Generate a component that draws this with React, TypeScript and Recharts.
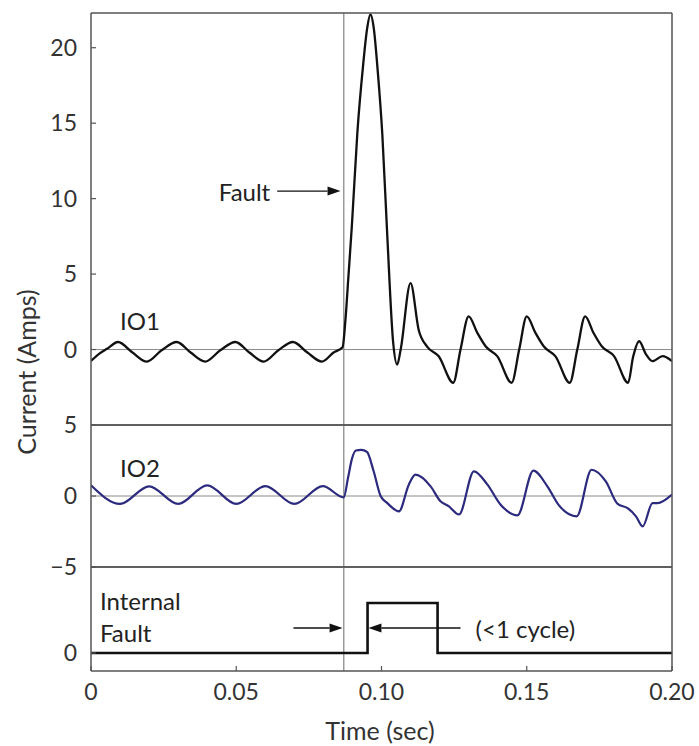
import React from 'react';
import { LineChart, Line, XAxis, YAxis, ReferenceLine, ReferenceDot } from 'recharts';

const FONT = 'Lato, "Open Sans", sans-serif';

// ---- axes ----
const timeTicks = [0, 0.05, 0.1, 0.15, 0.2];
const timeTickLabels = ['0', '0.05', '0.10', '0.15', '0.20'];
const innerTimeTicks = [0.05, 0.1, 0.15];
const io1Ticks = [0, 5, 10, 15, 20];
const io2Ticks = [-5, 0, 5];
const tripTicks = [0];

// ---- series IO1 (Amps) ----
const io1Time = [
  0, 0.003, 0.0055, 0.0093, 0.0143, 0.0192, 0.0243, 0.0295, 0.0343, 0.0393,
  0.0445, 0.0497, 0.0545, 0.0594, 0.0645, 0.0695, 0.0745, 0.0795, 0.0835, 0.0866,
  0.0876, 0.0886, 0.0898, 0.0917, 0.0937, 0.095, 0.0962, 0.0974, 0.0986, 0.1003,
  0.102, 0.104, 0.1054, 0.1066, 0.11, 0.1128, 0.1157, 0.1197, 0.1247, 0.1272,
  0.13, 0.133, 0.1359, 0.1399, 0.1448, 0.1474, 0.15, 0.153, 0.1559, 0.1599,
  0.1648, 0.1674, 0.1701, 0.173, 0.1759, 0.1801, 0.1849, 0.1866, 0.1887, 0.191,
  0.1933, 0.1968, 0.2,
];
const io1Amps = [
  -0.75, -0.25, 0.05, 0.5, -0.2, -0.8, -0.05, 0.5, -0.2, -0.8,
  -0.05, 0.5, -0.2, -0.8, -0.05, 0.5, -0.2, -0.8, -0.2, 0.15,
  2.0, 4.8, 8.2, 14.4, 18.9, 21.2, 22.2, 21.2, 18.7, 14.2,
  7.5, 0.5, -1.0, 0.0, 4.4, 1.3, 0.2, -0.45, -2.2, 0.0,
  2.2, 1.1, 0.2, -0.45, -2.2, 0.0, 2.2, 1.1, 0.2, -0.45,
  -2.2, 0.0, 2.2, 1.1, 0.2, -0.45, -2.2, -0.5, 0.55, -0.3,
  -0.77, -0.44, -0.77,
];

// ---- series IO2 (Amps) ----
const io2Time = [
  0, 0.01, 0.02, 0.03, 0.04, 0.05, 0.06, 0.07, 0.0798, 0.087,
  0.0885, 0.0898, 0.0912, 0.093, 0.095, 0.0973, 0.0997, 0.102, 0.106, 0.1094,
  0.1117, 0.1169, 0.1203, 0.1232, 0.1267, 0.1318, 0.1364, 0.141, 0.1468, 0.1523,
  0.1571, 0.1611, 0.1672, 0.1723, 0.1772, 0.1813, 0.1847, 0.1876, 0.1899, 0.1933,
  0.195, 0.2,
];
const io2Amps = [
  0.75, -0.56, 0.68, -0.56, 0.75, -0.56, 0.7, -0.56, 0.7, -0.1,
  1.3, 2.6, 3.2, 3.25, 3.1, 1.74, 0.0, -0.5, -1.08, 0.8,
  1.5, 0.68, -0.37, -0.73, -1.3, 1.74, 0.82, -0.61, -1.36, 1.78,
  0.68, -0.66, -1.43, 1.85, 1.03, -0.56, -0.85, -1.43, -2.14, -0.5,
  -0.5, 0.1,
];

// ---- internal fault trip signal ----
const tripTime = [0, 0.0952, 0.0952, 0.1193, 0.1193, 0.2];
const tripState = [0, 0, 1, 1, 0, 0];

const faultTime = 0.087;

const io1Data = io1Time.map((t, i) => ({ t, v: io1Amps[i] }));
const io2Data = io2Time.map((t, i) => ({ t, v: io2Amps[i] }));
const tripData = tripTime.map((t, i) => ({ t, v: tripState[i] }));

const FRAME = '#555';
const TICK_STYLE = { fill: '#333', fontSize: 23, fontFamily: FONT };
const minus = (v: number) => (v < 0 ? '\u2212' + Math.abs(v) : String(v));

const ArrowShape = (props: any) => {
  const { x1, y1, x2, y2 } = props;
  const dx = x2 - x1;
  const dy = y2 - y1;
  const len = Math.hypot(dx, dy) || 1;
  const ux = dx / len;
  const uy = dy / len;
  const hl = 13;
  const hw = 4.5;
  const bx = x2 - ux * hl;
  const by = y2 - uy * hl;
  return (
    <g>
      <line x1={x1} y1={y1} x2={bx} y2={by} stroke="#111" strokeWidth={1.4} />
      <polygon
        points={`${x2},${y2} ${bx - uy * hw},${by + ux * hw} ${bx + uy * hw},${by - ux * hw}`}
        fill="#111"
      />
    </g>
  );
};

const textMark = (text: string, anchor: 'start' | 'end' | 'middle') => (p: any) => (
  <text
    x={p.cx}
    y={p.cy}
    textAnchor={anchor}
    dominantBaseline="central"
    fontSize={24}
    fontFamily={FONT}
    fill="#222"
  >
    {text}
  </text>
);

type PanelProps = {
  top: number;
  height: number;
  topH: number;
  bottomH: number;
  domain: [number, number];
  yTicks: number[];
  showXLabels: boolean;
  children: React.ReactNode;
  data: any[];
};

function Panel({ top, height, topH, bottomH, domain, yTicks, showXLabels, children, data }: PanelProps) {
  return (
    <div style={{ position: 'absolute', left: 0, top, width: 699, height }}>
      <LineChart width={699} height={height} data={data} margin={{ top: 0, right: 0, bottom: 0, left: 0 }}>
        <XAxis
          xAxisId="top"
          orientation="top"
          dataKey="t"
          type="number"
          domain={[0, 0.2]}
          allowDataOverflow
          ticks={innerTimeTicks}
          tick={false}
          tickSize={-5}
          height={topH}
          axisLine={{ stroke: FRAME, strokeWidth: 1.5 }}
          tickLine={{ stroke: FRAME, strokeWidth: 1.2 }}
        />
        <XAxis
          xAxisId="bottom"
          orientation="bottom"
          dataKey="t"
          type="number"
          domain={[0, 0.2]}
          allowDataOverflow
          ticks={showXLabels ? timeTicks : innerTimeTicks}
          tick={showXLabels ? TICK_STYLE : false}
          tickFormatter={(v: number) => timeTickLabels[timeTicks.indexOf(v)] ?? String(v)}
          tickSize={-5}
          tickMargin={showXLabels ? 18 : 0}
          height={bottomH}
          interval={0}
          axisLine={{ stroke: FRAME, strokeWidth: 1.5 }}
          tickLine={{ stroke: FRAME, strokeWidth: 1.2 }}
        />
        <YAxis
          yAxisId="left"
          orientation="left"
          type="number"
          domain={domain}
          allowDataOverflow
          ticks={yTicks}
          tick={TICK_STYLE}
          tickFormatter={minus}
          tickSize={-5}
          tickMargin={19}
          width={91}
          interval={0}
          axisLine={{ stroke: FRAME, strokeWidth: 1.5 }}
          tickLine={{ stroke: FRAME, strokeWidth: 1.2 }}
        />
        <YAxis
          yAxisId="right"
          orientation="right"
          type="number"
          domain={domain}
          allowDataOverflow
          ticks={yTicks}
          tick={false}
          tickSize={-5}
          width={27}
          interval={0}
          axisLine={{ stroke: FRAME, strokeWidth: 1.5 }}
          tickLine={{ stroke: FRAME, strokeWidth: 1.2 }}
        />
        <ReferenceLine
          xAxisId="bottom"
          yAxisId="left"
          x={faultTime}
          stroke="#9a9a9a"
          strokeWidth={1.5}
        />
        {children}
      </LineChart>
    </div>
  );
}

export default function App() {
  return (
    <div style={{ position: 'absolute', left: 0, top: 0, width: 699, height: 746, background: '#fff', fontFamily: FONT }}>
      {/* IO1 panel: plot 13..425 */}
      <Panel top={0} height={440} topH={13} bottomH={15} domain={[-5, 22.3]} yTicks={io1Ticks} showXLabels={false} data={io1Data}>
        <ReferenceLine xAxisId="bottom" yAxisId="left" y={0} stroke="#8a8a8a" strokeWidth={1} />
        <Line
          xAxisId="bottom"
          yAxisId="left"
          dataKey="v"
          type="monotone"
          stroke="#111"
          strokeWidth={2.3}
          dot={false}
          isAnimationActive={false}
        />
        <ReferenceLine
          xAxisId="bottom"
          yAxisId="left"
          segment={[{ x: 0.0641, y: 10.5 }, { x: 0.0859, y: 10.5 }]}
          shape={ArrowShape}
        />
        <ReferenceDot xAxisId="bottom" yAxisId="left" x={0.0617} y={10.45} r={0} shape={textMark('Fault', 'end')} />
        <ReferenceDot xAxisId="bottom" yAxisId="left" x={0.01} y={1.9} r={0} shape={textMark('IO1', 'start')} />
      </Panel>

      {/* IO2 panel: plot 425..567 */}
      <Panel top={390} height={202} topH={35} bottomH={25} domain={[-5, 5]} yTicks={io2Ticks} showXLabels={false} data={io2Data}>
        <ReferenceLine xAxisId="bottom" yAxisId="left" y={0} stroke="#8a8a8a" strokeWidth={1} />
        <Line
          xAxisId="bottom"
          yAxisId="left"
          dataKey="v"
          type="monotone"
          stroke="#2b2a7e"
          strokeWidth={2.2}
          dot={false}
          isAnimationActive={false}
        />
        <ReferenceDot xAxisId="bottom" yAxisId="left" x={0.01} y={2.0} r={0} shape={textMark('IO2', 'start')} />
      </Panel>

      {/* Internal fault panel: plot 567..671 */}
      <Panel top={540} height={206} topH={27} bottomH={75} domain={[-0.36, 1.72]} yTicks={tripTicks} showXLabels={true} data={tripData}>
        <Line
          xAxisId="bottom"
          yAxisId="left"
          dataKey="v"
          type="linear"
          stroke="#111"
          strokeWidth={2.6}
          dot={false}
          isAnimationActive={false}
        />
        <ReferenceLine
          xAxisId="bottom"
          yAxisId="left"
          segment={[{ x: 0.0697, y: 0.5 }, { x: 0.0866, y: 0.5 }]}
          shape={ArrowShape}
        />
        <ReferenceLine
          xAxisId="bottom"
          yAxisId="left"
          segment={[{ x: 0.1272, y: 0.5 }, { x: 0.0955, y: 0.5 }]}
          shape={ArrowShape}
        />
        <ReferenceDot xAxisId="bottom" yAxisId="left" x={0.1324} y={0.5} r={0} shape={textMark('(<1 cycle)', 'start')} />
        <ReferenceDot xAxisId="bottom" yAxisId="left" x={0.0031} y={1.06} r={0} shape={textMark('Internal', 'start')} />
        <ReferenceDot xAxisId="bottom" yAxisId="left" x={0.0031} y={0.42} r={0} shape={textMark('Fault', 'start')} />
      </Panel>

      <svg width={699} height={746} style={{ position: 'absolute', left: 0, top: 0, pointerEvents: 'none' }}>
        <text
          x={0}
          y={0}
          transform="translate(26,372) rotate(-90)"
          textAnchor="middle"
          dominantBaseline="central"
          fontSize={25}
          fontFamily={FONT}
          fill="#333"
        >
          Current (Amps)
        </text>
        <text x={380} y={740} textAnchor="middle" fontSize={25} fontFamily={FONT} fill="#333">
          Time (sec)
        </text>
      </svg>
    </div>
  );
}
